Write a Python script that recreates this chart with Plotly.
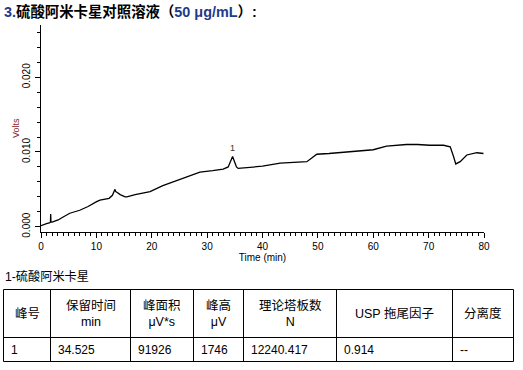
import plotly.graph_objects as go

W, H = 523, 370

# chromatogram trace (Time in min, signal in Volts)
time_min = [0.0, 0.5, 1.0, 1.5, 1.7, 1.75, 1.8, 2.0, 3.1, 4.0, 5.2, 7.0, 8.5, 10.05, 10.65, 12.3,
            12.9, 13.36, 13.5, 13.7, 14.3, 15.2, 15.5, 17.0, 19.7, 22.0, 25.7, 28.7, 31.0,
            32.9, 33.8, 34.2, 34.6, 35.0, 35.3, 35.6, 37.7, 40.0, 43.2, 45.0, 48.0, 48.9,
            49.8, 52.0, 55.2, 58.0, 60.0, 62.4, 64.0, 66.0, 68.0, 70.2, 72.7, 73.9, 74.5,
            74.9, 75.7, 76.9, 78.7, 79.9]
volts = [0.00013, 0.0003, 0.0004, 0.0005, 0.0006, 0.0017, 0.0006, 0.0006, 0.0009, 0.0013, 0.0018,
         0.0022, 0.0027, 0.00335, 0.00356, 0.0038, 0.0042, 0.0050, 0.0047, 0.0046, 0.0043,
         0.0040, 0.0040, 0.0043, 0.0047, 0.0055, 0.0065, 0.0073, 0.0075, 0.0077, 0.0080,
         0.0086, 0.0094, 0.0086, 0.0080, 0.0078, 0.0079, 0.0081, 0.0085, 0.0086, 0.0087,
         0.0092, 0.0097, 0.0098, 0.0100, 0.0101, 0.0103, 0.0108, 0.0109, 0.0110, 0.0110,
         0.0109, 0.0109, 0.0107, 0.0094, 0.0084, 0.0087, 0.0096, 0.0099, 0.0098]

peak_label = "1"
peak_time = 34.6
peak_volts = 0.0094

x_ticks = [0, 10, 20, 30, 40, 50, 60, 70, 80]
y_ticks = [0.0, 0.010, 0.020]
y_tick_labels = ["0.000", "0.010", "0.020"]

title_prefix = "3."
title_cn = "硫酸阿米卡星对照溶液（"
title_conc = "50 μg/mL"
title_end = "）:"
table_caption = "1-硫酸阿米卡星"
y_title = "Volts"

table_header = ["峰号", "保留时间<br>min", "峰面积<br>μV*s", "峰高<br>μV", "理论塔板数<br>N",
                "USP 拖尾因子", "分离度"]
table_row = ["1", "34.525", "91926", "1746", "12240.417", "0.914", "--"]

# table layout (pixel positions)
col_edges = [3.5, 50.5, 130.5, 193.5, 243.5, 336.5, 452.5, 513.5]
row_edges = [289.5, 337.5, 361.5]

FONT = "Liberation Sans, Arial, Noto Sans CJK SC, sans-serif"
BLUE = "#1f3a8a"

def px_x(p):
    return p / W

def px_y(p):
    return 1 - p / H

fig = go.Figure()
fig.add_trace(go.Scatter(x=time_min, y=volts, mode="lines",
                         line=dict(color="black", width=1.3), hoverinfo="skip",
                         showlegend=False))
fig.add_annotation(x=peak_time, y=peak_volts, text=peak_label, showarrow=False,
                   yshift=8, font=dict(size=9, color="#333333", family=FONT))

# table grid
shapes = []
for yy in row_edges:
    shapes.append(dict(type="line", xref="paper", yref="paper",
                       x0=px_x(col_edges[0]), x1=px_x(col_edges[-1]),
                       y0=px_y(yy), y1=px_y(yy), line=dict(color="black", width=1)))
for xx in col_edges:
    shapes.append(dict(type="line", xref="paper", yref="paper",
                       x0=px_x(xx), x1=px_x(xx),
                       y0=px_y(row_edges[0]), y1=px_y(row_edges[-1]),
                       line=dict(color="black", width=1)))
fig.update_layout(shapes=shapes)

# table text
for i, txt in enumerate(table_header):
    cx = (col_edges[i] + col_edges[i + 1]) / 2
    cy = (row_edges[0] + row_edges[1]) / 2
    fig.add_annotation(xref="paper", yref="paper", x=px_x(cx), y=px_y(cy),
                       xanchor="center", yanchor="middle", align="center",
                       showarrow=False, text=txt,
                       font=dict(family=FONT, size=12.5, color="black"))
for i, txt in enumerate(table_row):
    cy = (row_edges[1] + row_edges[2]) / 2
    fig.add_annotation(xref="paper", yref="paper", x=px_x(col_edges[i] + 5), y=px_y(cy),
                       xanchor="left", yanchor="middle", align="left",
                       showarrow=False, text=txt,
                       font=dict(family=FONT, size=12, color="black"))

fig.add_annotation(xref="paper", yref="paper", x=px_x(2), y=px_y(11), xanchor="left",
                   yanchor="middle", showarrow=False,
                   text=(f"<b><span style='color:{BLUE}'>{title_prefix}</span>{title_cn}"
                         f"<span style='color:{BLUE}'>{title_conc}</span>{title_end}</b>"),
                   font=dict(family=FONT, size=14.4, color="black"))
fig.add_annotation(xref="paper", yref="paper", x=px_x(3), y=px_y(276), xanchor="left",
                   yanchor="middle", showarrow=False, text=table_caption,
                   font=dict(family=FONT, size=12.2, color="black"))
fig.add_annotation(xref="paper", yref="paper", x=px_x(16), y=px_y(128), xanchor="center",
                   yanchor="middle", showarrow=False, text=y_title, textangle=-90,
                   font=dict(family=FONT, size=9, color="#8b1a1a"))

fig.update_layout(
    width=W, height=H, margin=dict(l=0, r=0, t=0, b=0, autoexpand=False),
    paper_bgcolor="white", plot_bgcolor="white",
    font=dict(family=FONT, size=10, color="black"),
    xaxis=dict(domain=[px_x(41), px_x(484)], range=[0, 80], tickvals=x_ticks,
               automargin=False,
               ticks="outside", ticklen=5, tickcolor="black", showline=True,
               linecolor="black", linewidth=1, showgrid=False, zeroline=False,
               minor=dict(dtick=1, ticks="outside", ticklen=3, tickcolor="black"),
               title=dict(text="Time (min)", font=dict(size=10), standoff=0),
               tickfont=dict(size=10)),
    yaxis=dict(domain=[px_y(231.7), px_y(25)], range=[-0.00067, 0.027],
               automargin=False,
               tickvals=y_ticks, ticktext=y_tick_labels, tickangle=-90,
               ticks="outside", ticklen=5, tickcolor="black", showline=True,
               linecolor="black", linewidth=1, showgrid=False, zeroline=False,
               ticklabelstandoff=1,
               minor=dict(dtick=0.002, ticks="outside", ticklen=3, tickcolor="black"),
               tickfont=dict(size=10)),
)

fig.write_html("out.html", config={"displayModeBar": False},
               post_script="document.body.style.margin='0';")
